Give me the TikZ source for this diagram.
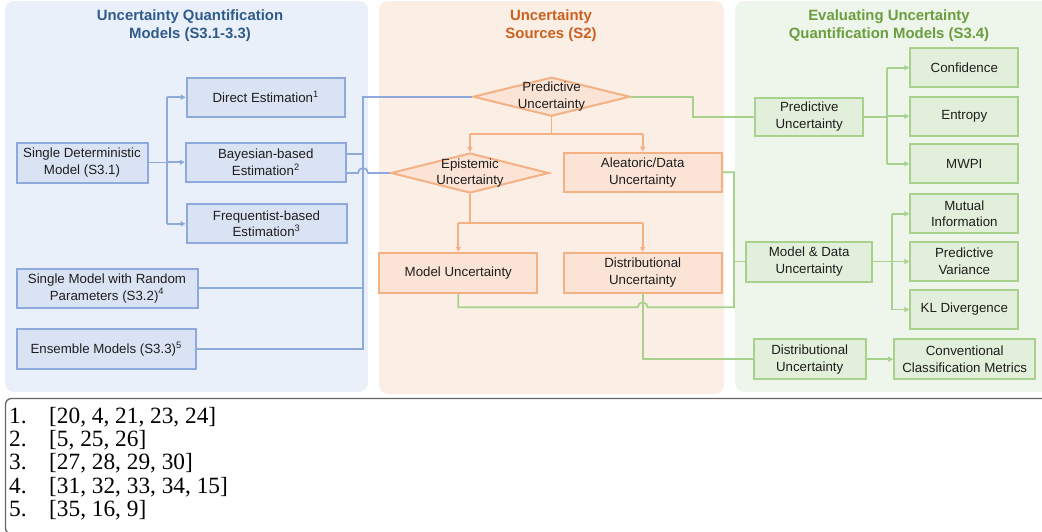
\documentclass[tikz,border=0pt]{standalone}
\usepackage{fontspec}
\setmainfont{Liberation Sans}
\newfontfamily\serifref{Liberation Serif}
\usetikzlibrary{shapes.geometric,arrows.meta,calc}
\definecolor{bluepanel}{HTML}{E9F0F9}
\definecolor{bluefill}{HTML}{DAE3F3}
\definecolor{blueborder}{HTML}{8EA9DB}
\definecolor{blueh}{HTML}{2F5B8C}
\definecolor{orangepanel}{HTML}{FBEEE5}
\definecolor{orangefill}{HTML}{FBE4D5}
\definecolor{orangeborder}{HTML}{F4B183}
\definecolor{orangeh}{HTML}{CB6120}
\definecolor{greenpanel}{HTML}{EEF5EA}
\definecolor{greenfill}{HTML}{E2EFDA}
\definecolor{greenborder}{HTML}{A9D18E}
\definecolor{greenh}{HTML}{6B9E3F}
\definecolor{textc}{HTML}{1E1E1E}
\definecolor{refborder}{HTML}{646464}
\begin{document}
\begin{tikzpicture}[x=1pt,y=-1pt,
  txt/.style={font=\fontsize{13.3}{16.8}\selectfont, text=textc, align=center},
  hdr/.style={font=\fontsize{14.9}{18}\selectfont\bfseries, align=center},
  bbox/.style={txt, rectangle, draw=blueborder, fill=bluefill, line width=2pt, inner sep=0pt},
  obox/.style={txt, rectangle, draw=orangeborder, fill=orangefill, line width=2pt, inner sep=0pt},
  gbox/.style={txt, rectangle, draw=greenborder, fill=greenfill, line width=2pt, inner sep=0pt},
  odia/.style={diamond, draw=orangeborder, fill=orangefill, line width=2pt, inner sep=0pt},
  bline/.style={draw=blueborder, line width=1.7pt},
  oline/.style={draw=orangeborder, line width=1.7pt},
  gline/.style={draw=greenborder, line width=1.7pt},
  tip/.style={-{Triangle[length=5pt,width=5pt]}},
  reff/.style={font=\serifref\fontsize{23.3}{24}\selectfont, text=black, inner sep=0pt}
]
\useasboundingbox (0,0) rectangle (1042,531);
% panels
\fill[bluepanel, rounded corners=9pt] (5,1) rectangle (368,392);
\fill[orangepanel, rounded corners=9pt] (379,1) rectangle (724,394);
\fill[greenpanel, rounded corners=9pt] (735,1) rectangle (1060,392);
% reference box
\draw[refborder, line width=1.3pt, rounded corners=6pt] (1060,398.5) -- (5.5,398.5) -- (5.5,534) -- (1060,534);

% headers
\node[hdr, text=blueh] (hblue) at (190,26) {Uncertainty Quantification\\Models (S3.1-3.3)};
\node[hdr, text=orangeh] (horange) at (551,26) {Uncertainty\\Sources (S2)};
\node[hdr, text=greenh] (hgreen) at (889,26) {Evaluating Uncertainty\\Quantification Models (S3.4)};

% left nodes
\node[bbox, minimum width=158pt, minimum height=39pt] (direct) at (265.7,97.2) {Direct Estimation\textsuperscript{1}};
\node[bbox, minimum width=160pt, minimum height=39pt] (bayes) at (265.8,162.2) {Bayesian-based\\Estimation\textsuperscript{2}};
\node[bbox, minimum width=160pt, minimum height=39pt] (freq) at (266.5,223.8) {Frequentist-based\\Estimation\textsuperscript{3}};
\node[bbox, minimum width=131pt, minimum height=40pt] (sdm) at (82,162.5) {Single Deterministic\\Model (S3.1)};
\node[bbox, minimum width=181pt, minimum height=39pt] (rand) at (107,288.3) {Single Model with Random\\Parameters (S3.2)\textsuperscript{4}};
\node[bbox, minimum width=179pt, minimum height=40pt] (ens) at (106.2,348.8) {Ensemble Models (S3.3)\textsuperscript{5}};

% middle nodes
\node[odia, minimum width=157pt, minimum height=39pt] (pred) at (551.5,96.7) {};
\node[txt] (predT) at (pred) {Predictive\\Uncertainty};
\node[odia, minimum width=158pt, minimum height=40pt] (epi) at (470,173) {};
\node[txt] (epiT) at (epi) {Epistemic\\Uncertainty};
\node[obox, minimum width=158pt, minimum height=39pt] (alea) at (642.7,172.2) {Aleatoric/Data\\Uncertainty};
\node[obox, minimum width=158pt, minimum height=40pt] (model) at (458.3,272.8) {Model Uncertainty};
\node[obox, minimum width=158pt, minimum height=40pt] (dist) at (642.7,272.8) {Distributional\\Uncertainty};

% right nodes
\node[gbox, minimum width=108pt, minimum height=38pt] (gpred) at (809.2,116.7) {Predictive\\Uncertainty};
\node[gbox, minimum width=108pt, minimum height=39pt] (conf) at (964.3,67.7) {Confidence};
\node[gbox, minimum width=108pt, minimum height=39pt] (entr) at (964.3,116.2) {Entropy};
\node[gbox, minimum width=108pt, minimum height=39pt] (mwpi) at (964.3,163.8) {MWPI};
\node[gbox, minimum width=108pt, minimum height=39pt] (mi) at (964.3,213.8) {Mutual\\Information};
\node[gbox, minimum width=108pt, minimum height=39pt] (pv) at (964.3,261.5) {Predictive\\Variance};
\node[gbox, minimum width=108pt, minimum height=39pt] (kl) at (964.3,309.5) {KL Divergence};
\node[gbox, minimum width=126pt, minimum height=40pt] (gmd) at (809.2,261.5) {Model \& Data\\Uncertainty};
\node[gbox, minimum width=112pt, minimum height=40pt] (gdist) at (809.7,359.2) {Distributional\\Uncertainty};
\node[gbox, minimum width=141pt, minimum height=40pt] (conv) at (964.7,359.2) {Conventional\\Classification Metrics};

% helper coordinates
\coordinate (btrunk) at (166.7,0);
\coordinate (busx) at (363,0);
\coordinate (o1) at (0,134.3);
\coordinate (o2) at (0,222.7);
\coordinate (gx) at (734,0);
\coordinate (gy) at (0,307.3);
\coordinate (pj) at (692.7,0);
\coordinate (gt1) at (886.7,0);
\coordinate (gt2) at (892.3,0);

% blue connectors
\draw[bline] (sdm.east) -- (btrunk |- sdm.east);
\draw[bline] (btrunk |- direct.west) -- (btrunk |- freq.west);
\draw[bline, tip] (btrunk |- direct.west) -- (direct.west);
\draw[bline, tip] (btrunk |- bayes.west) -- (bayes.west);
\draw[bline, tip] (btrunk |- freq.west) -- (freq.west);
\draw[bline] (ens.east) -- (busx |- ens.east) -- (busx |- pred.west) -- (pred.west);
\draw[bline] (rand.east) -- (busx |- rand.east);
\draw[bline] ($(bayes.east)+(0,-8)$) coordinate (b1) -- (busx |- b1);
\draw[bline] (bayes.east |- epi.west) -- ($(busx |- epi.west)+(-5,0)$) arc[start angle=180,end angle=0,radius=5pt] -- (epi.west);

% orange connectors
\draw[oline] (pred.south) -- (pred.south |- o1);
\draw[oline] (epi.north |- o1) -- (alea.north |- o1);
\draw[oline, tip] (epi.north |- o1) -- (epi.north);
\draw[oline, tip] (alea.north |- o1) -- (alea.north);
\draw[oline] (epi.south) -- (epi.south |- o2);
\draw[oline] (model.north |- o2) -- (dist.north |- o2);
\draw[oline, tip] (model.north |- o2) -- (model.north);
\draw[oline, tip] (dist.north |- o2) -- (dist.north);

% green connectors
\draw[gline] (pred.east) -- (pj |- pred.east) -- (pj |- gpred.west) -- (gpred.west);
\draw[gline] (alea.east) -- (gx |- alea.east) -- (gx |- gy) -- ($(dist.south |- gy)+(5,0)$) arc[start angle=0,end angle=180,radius=5pt] -- (model.south |- gy) -- (model.south);
\draw[gline] (gx |- gmd.west) -- (gmd.west);
\draw[gline] (dist.south) -- (dist.south |- gdist.west) -- (gdist.west);
\draw[gline] (gpred.east) -- (gt1 |- gpred.east);
\draw[gline] (gt1 |- conf.west) -- (gt1 |- mwpi.west);
\draw[gline, tip] (gt1 |- conf.west) -- (conf.west);
\draw[gline, tip] (gt1 |- entr.west) -- (entr.west);
\draw[gline, tip] (gt1 |- mwpi.west) -- (mwpi.west);
\draw[gline] (gmd.east) -- (gt2 |- gmd.east);
\draw[gline] (gt2 |- mi.west) -- (gt2 |- kl.west);
\draw[gline, tip] (gt2 |- mi.west) -- (mi.west);
\draw[gline, tip] (gt2 |- pv.west) -- (pv.west);
\draw[gline, tip] (gt2 |- kl.west) -- (kl.west);
\draw[gline, tip] (gdist.east) -- (conv.west);

% references
\foreach \t [count=\i] in {{[20, 4, 21, 23, 24]},{[5, 25, 26]},{[27, 28, 29, 30]},{[31, 32, 33, 34, 15]},{[35, 16, 9]}} {
  \node[reff, anchor=base west] (num\i) at (9, 400+23.25*\i) {\i.};
  \node[reff, anchor=base west] (ref\i) at (49, 400+23.25*\i) {\t};
}
\end{tikzpicture}
\end{document}
